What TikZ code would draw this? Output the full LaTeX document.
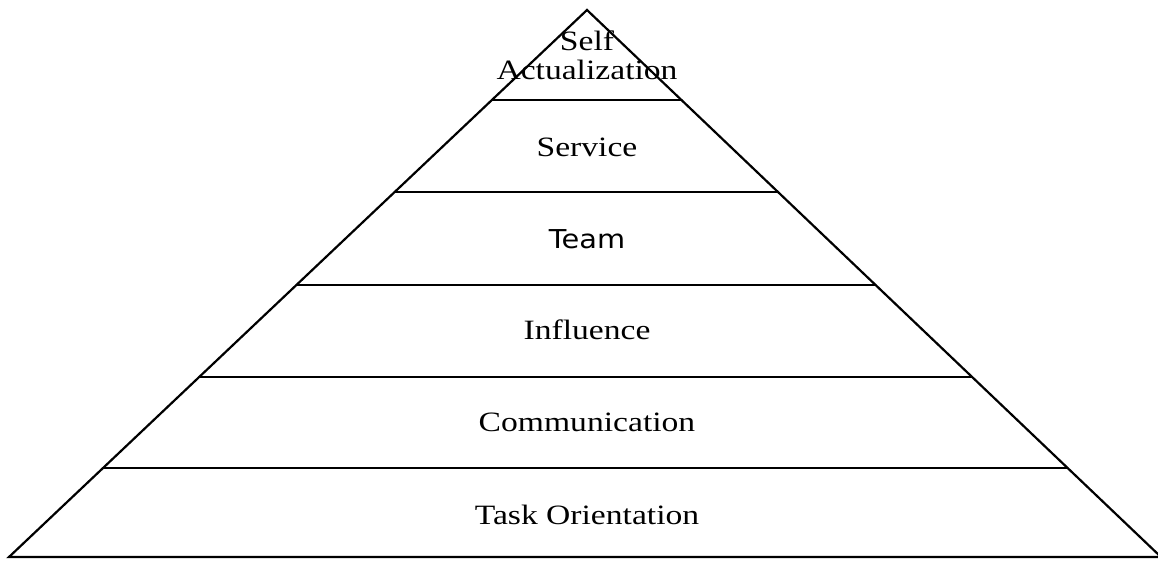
\documentclass[tikz,border=0pt]{standalone}
\usepackage{fontspec}
\setmainfont{Liberation Serif}
\newfontfamily\teamfont{DejaVu Sans}
\usetikzlibrary{calc}
\tikzset{level/.style={font=\fontsize{14}{14.5}\selectfont, xscale=1.2, transform shape, align=center, inner sep=0pt}}
\tikzset{edge/.style={line width=1.1pt}}

\begin{document}
\begin{tikzpicture}[line cap=round,line join=miter,x=0.5pt,y=-0.5pt]
			\useasboundingbox (0,0) rectangle (1158,561);
			\coordinate (top) at (587,10);
			\coordinate (bl) at (9,557);
			\coordinate (br) at (1161,557);
			\draw[edge] (bl) -- (top) -- (br) -- cycle;
			\foreach \y in {100,192,285,377,468}
				\draw[edge] ($(top)!{(\y-10)/547}!(bl)$) -- ($(top)!{(\y-10)/547}!(br)$);
			\node[level] (self) at (587,55) {Self\\Actualization};
			\node[level] (service) at (587,147) {Service};
			\node[level, font=\teamfont\fontsize{13}{14}\selectfont, xscale=0.925] (team) at (587,239) {Team};
			\node[level] (influence) at (587,330) {Influence};
			\node[level] (communication) at (587,422) {Communication};
			\node[level] (task) at (587,515) {Task Orientation};
		\end{tikzpicture}
\end{document}
